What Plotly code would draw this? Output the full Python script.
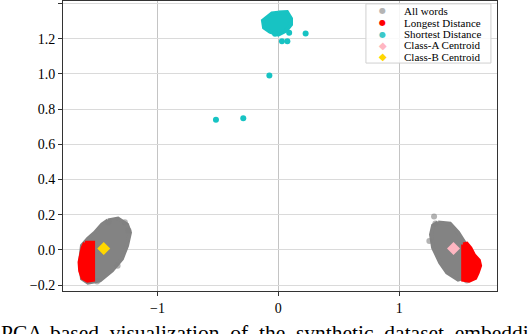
import plotly.graph_objects as go

# --- data (PCA coordinates) ---
# dense "all words" clusters, traced as outlines
left_words_x = [-1.41, -1.327, -1.252, -1.228, -1.252, -1.294, -1.377, -1.476, -1.575, -1.625, -1.641, -1.625, -1.575, -1.517, -1.459]
left_words_y = [0.167, 0.178, 0.144, 0.098, 0.024, -0.05, -0.118, -0.174, -0.186, -0.163, -0.072, 0.024, 0.064, 0.098, 0.144]
right_words_x = [1.322, 1.421, 1.488, 1.546, 1.546, 1.488, 1.397, 1.339, 1.281, 1.264, 1.281]
right_words_y = [0.155, 0.149, 0.098, 0.036, -0.157, -0.169, -0.129, -0.072, 0.013, 0.087, 0.138]
# loose words outside the dense part
stray_words_x = [-1.406, -1.27, -1.24, -1.5, -1.33, 1.289, 1.3, 1.56, 1.25]
stray_words_y = [0.157, 0.157, 0.11, -0.18, -0.09, 0.189, 0.15, -0.175, 0.05]

# longest-distance words
left_long_x = [-1.60, -1.533, -1.533, -1.58, -1.62, -1.64, -1.645, -1.63, -1.62]
left_long_y = [0.04, 0.04, -0.17, -0.175, -0.16, -0.12, -0.07, -0.03, 0.01]
right_long_x = [1.53, 1.56, 1.59, 1.62, 1.66, 1.67, 1.65, 1.63, 1.58, 1.53]
right_long_y = [0.03, 0.035, 0.01, -0.03, -0.06, -0.09, -0.13, -0.16, -0.175, -0.17]

# shortest-distance words
short_blob_x = [0.0, 0.072, 0.105, 0.105, 0.064, 0.0, -0.069, -0.118, -0.127, -0.085, -0.052]
short_blob_y = [1.348, 1.351, 1.314, 1.28, 1.246, 1.223, 1.24, 1.263, 1.303, 1.325, 1.343]
short_dots_x = [0.09, 0.226, 0.03, 0.075, -0.027, -0.074, -0.29, -0.516]
short_dots_y = [1.233, 1.229, 1.185, 1.185, 1.228, 0.99, 0.748, 0.739]

centroid_a = (1.45, 0.007)
centroid_b = (-1.445, 0.007)

legend_labels = ["All words", "Longest Distance", "Shortest Distance", "Class-A Centroid", "Class-B Centroid"]
legend_symbols = ["●", "●", "●", "◆", "◆"]

GRAY = "#838383"
RED = "#ff0000"
CYAN = "#17c3c3"
PINK = "#ffb6c1"
GOLD = "#ffd700"
legend_colors = ["#b4b4b4", RED, "#3cc8c8", PINK, GOLD]

SERIF = "Liberation Serif, Times New Roman, serif"

fig = go.Figure()


def blob(x, y, color):
    fig.add_trace(go.Scatter(x=x + x[:1], y=y + y[:1], mode="lines", fill="toself",
                             fillcolor=color, line=dict(color=color, width=4),
                             showlegend=False, hoverinfo="skip"))


blob(left_words_x, left_words_y, GRAY)
blob(right_words_x, right_words_y, GRAY)
fig.add_trace(go.Scatter(x=stray_words_x, y=stray_words_y, mode="markers",
                         marker=dict(color="rgba(128,128,128,0.6)", size=6), showlegend=False))
blob(left_long_x, left_long_y, RED)
blob(right_long_x, right_long_y, RED)
blob(short_blob_x, short_blob_y, CYAN)
fig.add_trace(go.Scatter(x=short_dots_x, y=short_dots_y, mode="markers",
                         marker=dict(color=CYAN, size=6), showlegend=False))
fig.add_trace(go.Scatter(x=[centroid_a[0]], y=[centroid_a[1]], mode="markers",
                         marker=dict(color=PINK, size=10, symbol="diamond"), showlegend=False))
fig.add_trace(go.Scatter(x=[centroid_b[0]], y=[centroid_b[1]], mode="markers",
                         marker=dict(color=GOLD, size=10, symbol="diamond"), showlegend=False))

# hand-drawn legend box, matplotlib style
fig.add_shape(type="rect", xref="paper", yref="paper", x0=0.698, x1=0.986, y0=0.786, y1=0.990,
              line=dict(color="#d0d0d0", width=1), fillcolor="rgba(255,255,255,0.85)", layer="above")
legend_y = [0.966, 0.925, 0.886, 0.848, 0.808]
for lab, sym, col, ly in zip(legend_labels, legend_symbols, legend_colors, legend_y):
    fig.add_annotation(x=0.737, y=ly, xref="paper", yref="paper", text=sym, showarrow=False,
                       xanchor="center", yanchor="middle",
                       font=dict(color=col, size=8 if sym == "●" else 10, family="DejaVu Sans"))
    fig.add_annotation(x=0.78, y=ly, xref="paper", yref="paper", text=lab, showarrow=False,
                       xanchor="left", yanchor="middle",
                       font=dict(color="black", size=11, family=SERIF))

# figure caption, cut off by the crop
fig.add_annotation(x=-0.147, y=-0.095, xref="paper", yref="paper", xanchor="left", yanchor="top",
                   text="PCA-based\u00a0 visualization\u00a0 of\u00a0 the\u00a0 synthetic\u00a0 dataset\u00a0 embeddings",
                   showarrow=False, font=dict(color="black", size=21.5, family=SERIF))

axis_common = dict(showline=True, mirror=True, linecolor="#333333", linewidth=1,
                   ticks="outside", ticklen=4, tickcolor="#333333", zeroline=False, automargin=False,
                   tickfont=dict(family=SERIF, size=14, color="black"))
fig.update_xaxes(range=[-1.782, 1.81], dtick=1, tick0=0, gridcolor="#c4c4c4", **axis_common)
fig.update_yaxes(range=[-0.234, 1.414], dtick=0.2, tick0=0, tickformat=".1f",
                 gridcolor="#dadada", **axis_common)
fig.update_layout(width=528, height=334, margin=dict(l=63, r=31, t=1, b=43),
                  plot_bgcolor="white", paper_bgcolor="white", showlegend=False)

# page body has a default 8px margin; drop it so the figure sits at the corner
fig.write_html("out.html", config={"displayModeBar": False},
               post_script="document.body.style.margin='0';")
